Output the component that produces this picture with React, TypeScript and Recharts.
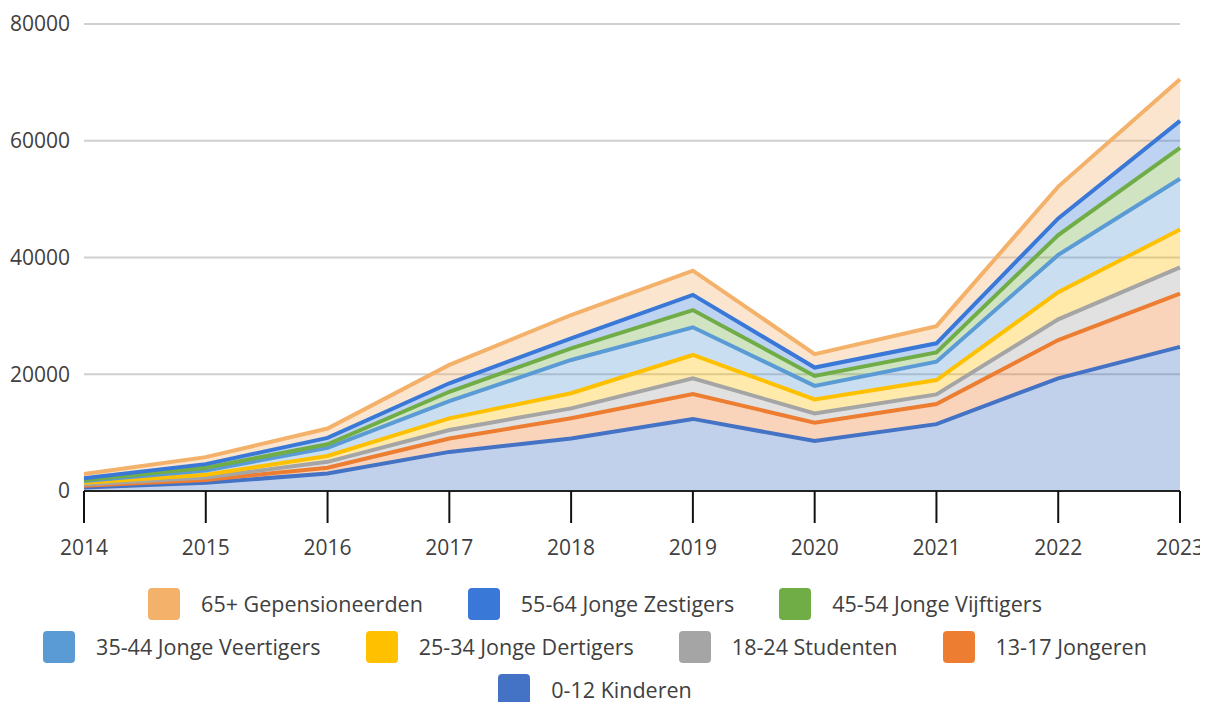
import React from "react";
import { AreaChart, Area, XAxis, YAxis, CartesianGrid, Legend } from "recharts";

const years = ["2014", "2015", "2016", "2017", "2018", "2019", "2020", "2021", "2022", "2023"];
const kinderen = [600, 1400, 3000, 6700, 9000, 12350, 8550, 11450, 19300, 24700];
const jongeren = [300, 500, 1000, 2300, 3450, 4250, 3150, 3450, 6550, 9100];
const studenten = [200, 400, 1000, 1450, 1700, 2700, 1600, 1650, 3550, 4500];
const dertigers = [300, 500, 1000, 2000, 2600, 4000, 2400, 2450, 4650, 6500];
const veertigers = [300, 700, 1400, 2950, 5700, 4750, 2300, 3150, 6400, 8700];
const vijftigers = [200, 500, 600, 1600, 2000, 2950, 1700, 1600, 3400, 5300];
const zestigers = [300, 600, 1100, 1450, 1700, 2600, 1450, 1550, 2850, 4600];
const gepensioneerden = [700, 1200, 1600, 3150, 4000, 4150, 2300, 2950, 5450, 7150];
const yTicks = [0, 20000, 40000, 60000, 80000];

const series = [
  { key: "k", name: "0-12 Kinderen", color: "#4472C4", values: kinderen },
  { key: "j", name: "13-17 Jongeren", color: "#ED7D31", values: jongeren },
  { key: "s", name: "18-24 Studenten", color: "#A5A5A5", values: studenten },
  { key: "d", name: "25-34 Jonge Dertigers", color: "#FFC000", values: dertigers },
  { key: "v", name: "35-44 Jonge Veertigers", color: "#5B9BD5", values: veertigers },
  { key: "f", name: "45-54 Jonge Vijftigers", color: "#70AD47", values: vijftigers },
  { key: "z", name: "55-64 Jonge Zestigers", color: "#3A78D8", values: zestigers },
  { key: "g", name: "65+ Gepensioneerden", color: "#F4B16A", values: gepensioneerden },
];

const data = years.map((y, i) => {
  const row: Record<string, number | string> = { year: y };
  series.forEach((s) => (row[s.key] = s.values[i]));
  return row;
});

const legendRows = [
  ["g", "z", "f"],
  ["v", "d", "s", "j"],
  ["k"],
];

const font = "'Open Sans', sans-serif";

const LegendContent = () => (
  <div style={{ width: 1174, height: 130, paddingTop: 10, boxSizing: "border-box", fontFamily: font }}>
    {legendRows.map((row, ri) => (
      <div key={ri} style={{ display: "flex", justifyContent: "center", alignItems: "center", height: 43, gap: 45 }}>
        {row.map((k) => {
          const s = series.find((x) => x.key === k)!;
          return (
            <div key={k} style={{ display: "flex", alignItems: "center" }}>
              <div style={{ width: 32, height: 32, borderRadius: 4, background: s.color, marginRight: 21 }} />
              <span style={{ fontSize: 21.5, color: "#404040", whiteSpace: "nowrap" }}>{s.name}</span>
            </div>
          );
        })}
      </div>
    ))}
  </div>
);

export default function App() {
  return (
    <div style={{ width: 1200, height: 694 }}>
      <style>{"html,body{overflow:hidden} .recharts-surface{overflow:visible}"}</style>
      <AreaChart width={1200} height={694} data={data} margin={{ top: 16, right: 28, bottom: 0, left: 0 }}>
        <CartesianGrid vertical={false} stroke="#d0d0d0" strokeWidth={2} />
        <YAxis
          domain={[0, 80000]}
          ticks={yTicks}
          width={76}
          axisLine={false}
          tickLine={false}
          tickSize={0}
          tickMargin={14}
          tick={{ fill: "#404040", fontSize: 21, fontFamily: font }}
        />
        <XAxis
          dataKey="year"
          height={81}
          padding={{ left: 0, right: 0 }}
          axisLine={{ stroke: "#222", strokeWidth: 2 }}
          tickLine={{ stroke: "#111", strokeWidth: 2 }}
          tickSize={32}
          tickMargin={17}
          interval={0}
          tick={{ fill: "#404040", fontSize: 21, fontFamily: font }}
        />
        {series.map((s) => (
          <Area
            key={"fill-" + s.key}
            type="linear"
            dataKey={s.key}
            name={s.name}
            stackId="fill"
            stroke="none"
            fill={s.color}
            fillOpacity={0.33}
            isAnimationActive={false}
          />
        ))}
        {series.map((s) => (
          <Area
            key={"line-" + s.key}
            type="linear"
            dataKey={s.key}
            name={s.name}
            stackId="line"
            stroke={s.color}
            strokeWidth={4}
            fill="none"
            isAnimationActive={false}
          />
        ))}
        <Legend verticalAlign="bottom" align="left" content={<LegendContent />} wrapperStyle={{ left: 0 }} />
      </AreaChart>
    </div>
  );
}
